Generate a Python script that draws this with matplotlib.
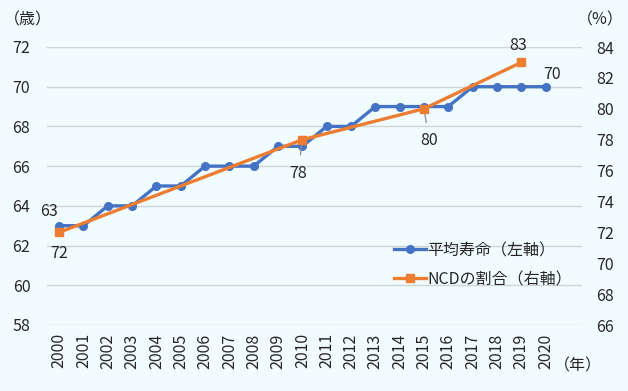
import matplotlib
matplotlib.use("Agg")
import matplotlib.pyplot as plt

plt.rcParams['font.family'] = ['Noto Sans CJK JP', 'DejaVu Sans']

years = [str(y) for y in range(2000, 2021)]
life_exp = [63, 63, 64, 64, 65, 65, 66, 66, 66, 67, 67, 68, 68, 69, 69, 69, 69, 70, 70, 70, 70]
ncd_years = ["2000", "2010", "2015", "2019"]
ncd_share = [72, 78, 80, 83]

BLUE = "#4472C4"
ORANGE = "#ED7D31"
BG = "#F0FCFF"
TXT = "#262626"

fig = plt.figure(figsize=(6.28, 3.91), dpi=100, facecolor=BG)
W, H = 628, 391
x0, x1, yt, yb = 47, 582, 47, 325
ax = fig.add_axes([x0 / W, 1 - yb / H, (x1 - x0) / W, (yb - yt) / H], facecolor=BG)
ax2 = ax.twinx()

xi = list(range(len(years)))
ncd_x = [years.index(y) for y in ncd_years]

ax.plot(xi, life_exp, color=BLUE, lw=2.4, marker="o", ms=5.5, zorder=3, label="平均寿命（左軸）")
ax2.plot(ncd_x, ncd_share, color=ORANGE, lw=2.4, marker="s", ms=6, zorder=4, label="NCDの割合（右軸）")

ax.set_xlim(-0.5, 21.5)
ax.set_ylim(58, 72)
ax2.set_ylim(66, 84)
ax.set_yticks(range(58, 73, 2))
ax2.set_yticks(range(66, 85, 2))
ax.set_xticks(xi)
ax.set_xticklabels(years, rotation=90)
ax.grid(axis="y", color="#D0D4D6", lw=1)
ax.set_axisbelow(True)
for a in (ax, ax2):
    for s in a.spines.values():
        s.set_visible(False)
    a.tick_params(length=0, labelsize=11.5, colors=TXT)
ax.tick_params(axis="y", pad=12)
ax2.tick_params(axis="y", pad=10)
ax.tick_params(axis="x", pad=6)

# data labels
ax.annotate("63", (0, 63), xytext=(-7, 10), textcoords="offset points", ha="center", va="center", fontsize=11.5, color=TXT)
ax.annotate("70", (20, 70), xytext=(5, 9), textcoords="offset points", ha="center", va="center", fontsize=11.5, color=TXT)
ax2.annotate("72", (0, 72), xytext=(0, -15), textcoords="offset points", ha="center", va="center", fontsize=11.5, color=TXT)
ax2.annotate("78", (10, 78), xytext=(-3, -24), textcoords="offset points", ha="center", va="center", fontsize=11.5, color=TXT,
             arrowprops=dict(arrowstyle="-", color="#8C8C8C", lw=0.9, shrinkA=5, shrinkB=1))
ax2.annotate("80", (15, 80), xytext=(4, -23), textcoords="offset points", ha="center", va="center", fontsize=11.5, color=TXT,
             arrowprops=dict(arrowstyle="-", color="#8C8C8C", lw=0.9, shrinkA=5, shrinkB=1))
ax2.annotate("83", (19, 83), xytext=(-2, 12), textcoords="offset points", ha="center", va="center", fontsize=11.5, color=TXT)

h1, l1 = ax.get_legend_handles_labels()
h2, l2 = ax2.get_legend_handles_labels()
leg = ax.legend(h1 + h2, l1 + l2, loc="upper left", bbox_to_anchor=((394 - x0) / (x1 - x0), 1 - (242 - yt) / (yb - yt)),
                frameon=False, fontsize=11.5, handlelength=2.0, handletextpad=0.1, labelspacing=0.75,
                borderaxespad=0, borderpad=0)
for t in leg.get_texts():
    t.set_color(TXT)

fig.text(28 / W, 1 - 20 / H, "（歳）", ha="center", va="center", fontsize=11.5, color=TXT)
fig.text(600 / W, 1 - 20 / H, "（%）", ha="center", va="center", fontsize=11.5, color=TXT)
fig.text(578 / W, 1 - 366 / H, "（年）", ha="center", va="center", fontsize=11.5, color=TXT)

fig.savefig("out.png", dpi=100, facecolor=BG)
